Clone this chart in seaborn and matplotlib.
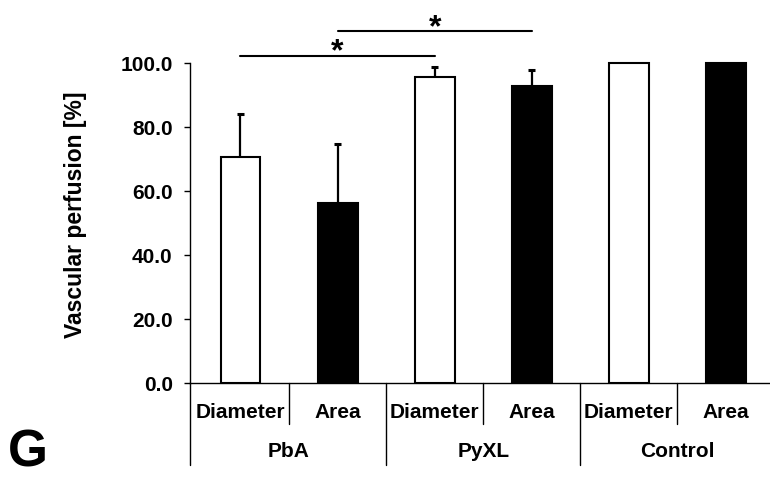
import numpy as np
import pandas as pd
import matplotlib
matplotlib.use("Agg")
import matplotlib.pyplot as plt
import matplotlib.transforms as mtransforms
import seaborn as sns

# data
groups = ["PbA", "PyXL", "Control"]
measures = ["Diameter", "Area"]
perfusion = [70.6, 56.2, 95.6, 92.9, 100.0, 100.0]
error_up = [13.6, 18.6, 3.1, 5.0, 0.0, 0.0]
sig_pairs = [(0, 2), (1, 3)]
sig_heights = [102.4, 110.0]

rows = []
i = 0
for g in groups:
    for m in measures:
        rows.append({"bar": f"{g} {m}", "group": g, "measure": m,
                     "perfusion": perfusion[i], "err": error_up[i]})
        i += 1
df = pd.DataFrame(rows)

sns.set_style("white")
plt.rcParams["font.family"] = ["Liberation Sans", "DejaVu Sans"]
plt.rcParams["font.weight"] = "bold"
plt.rcParams["text.color"] = "black"
plt.rcParams["axes.labelcolor"] = "black"
plt.rcParams["xtick.color"] = "black"
plt.rcParams["ytick.color"] = "black"

fig = plt.figure(figsize=(7.7, 4.78), dpi=100)
ax = fig.add_axes([190 / 770, (478 - 383.3) / 478, 580 / 770, 377.6 / 478])

sns.barplot(
    data=df, x="bar", y="perfusion", hue="measure",
    palette={"Diameter": "white", "Area": "black"},
    dodge=False, width=0.41, saturation=1,
    edgecolor="black", linewidth=1.5,
    errorbar=None, legend=False, ax=ax,
)

# upper error bars only (like the Excel original)
xpos = np.arange(len(df))
has_err = df["err"].values > 0
tops = df["perfusion"].values + df["err"].values
ax.vlines(xpos[has_err], df["perfusion"].values[has_err], tops[has_err],
          color="black", linewidth=1.6, zorder=1)
ax.hlines(tops[has_err], xpos[has_err] - 0.036, xpos[has_err] + 0.036,
          color="black", linewidth=2.2)

# significance lines
for (a, b), h in zip(sig_pairs, sig_heights):
    ax.plot([a, b], [h, h], color="black", linewidth=1.5, clip_on=False)
    ax.text((a + b) / 2, h - 1.6, "*", ha="center", va="baseline",
            fontsize=23, fontweight="bold", color="black", clip_on=False)

ax.set_ylim(0, 118)
ax.set_xlim(-0.52, 5.453)
ax.set_yticks([0, 20, 40, 60, 80, 100])
ax.set_yticklabels([f"{v:.1f}" for v in [0, 20, 40, 60, 80, 100]],
                   fontsize=15, fontweight="bold", color="black")
ax.tick_params(axis="y", left=True, length=4, width=1, pad=8.5, color="black")
ax.tick_params(axis="x", bottom=False, labelbottom=False)
ax.set_xlabel("")
ax.set_ylabel("Vascular perfusion [%]", fontsize=16.5, fontweight="bold",
              color="black")
ax.yaxis.set_label_coords(-0.178, 0.446)

for side in ["top", "right"]:
    ax.spines[side].set_visible(False)
for side in ["left", "bottom"]:
    ax.spines[side].set_color("black")
    ax.spines[side].set_linewidth(1.0)
ax.spines["left"].set_bounds(0, 100)

# category table below the axis
trans = mtransforms.blended_transform_factory(ax.transData, ax.transAxes)
for k in range(len(groups)):
    ax.plot([2 * k + 0.5, 2 * k + 0.5], [0, -0.108], color="black",
            linewidth=1.0, transform=trans, clip_on=False)
    if k > 0:
        ax.plot([2 * k - 0.5, 2 * k - 0.5], [0, -0.216], color="black",
                linewidth=1.0, transform=trans, clip_on=False)
    ax.text(2 * k + 0.5, -0.181, groups[k], transform=trans, ha="center",
            va="center", fontsize=15, fontweight="bold", color="black")
ax.plot([0, 0], [0, -0.216], color="black", linewidth=1.0,
        transform=ax.transAxes, clip_on=False)
for j, m in enumerate(df["measure"]):
    ax.text(j, -0.078, m, transform=trans, ha="center", va="center",
            fontsize=15, fontweight="bold", color="black")

# panel letter
fig.text(8 / 770, 0.002, "G", ha="left", va="bottom",
         fontsize=37, fontweight="bold", color="black")

fig.savefig("out.png", dpi=100)
plt.close(fig)
